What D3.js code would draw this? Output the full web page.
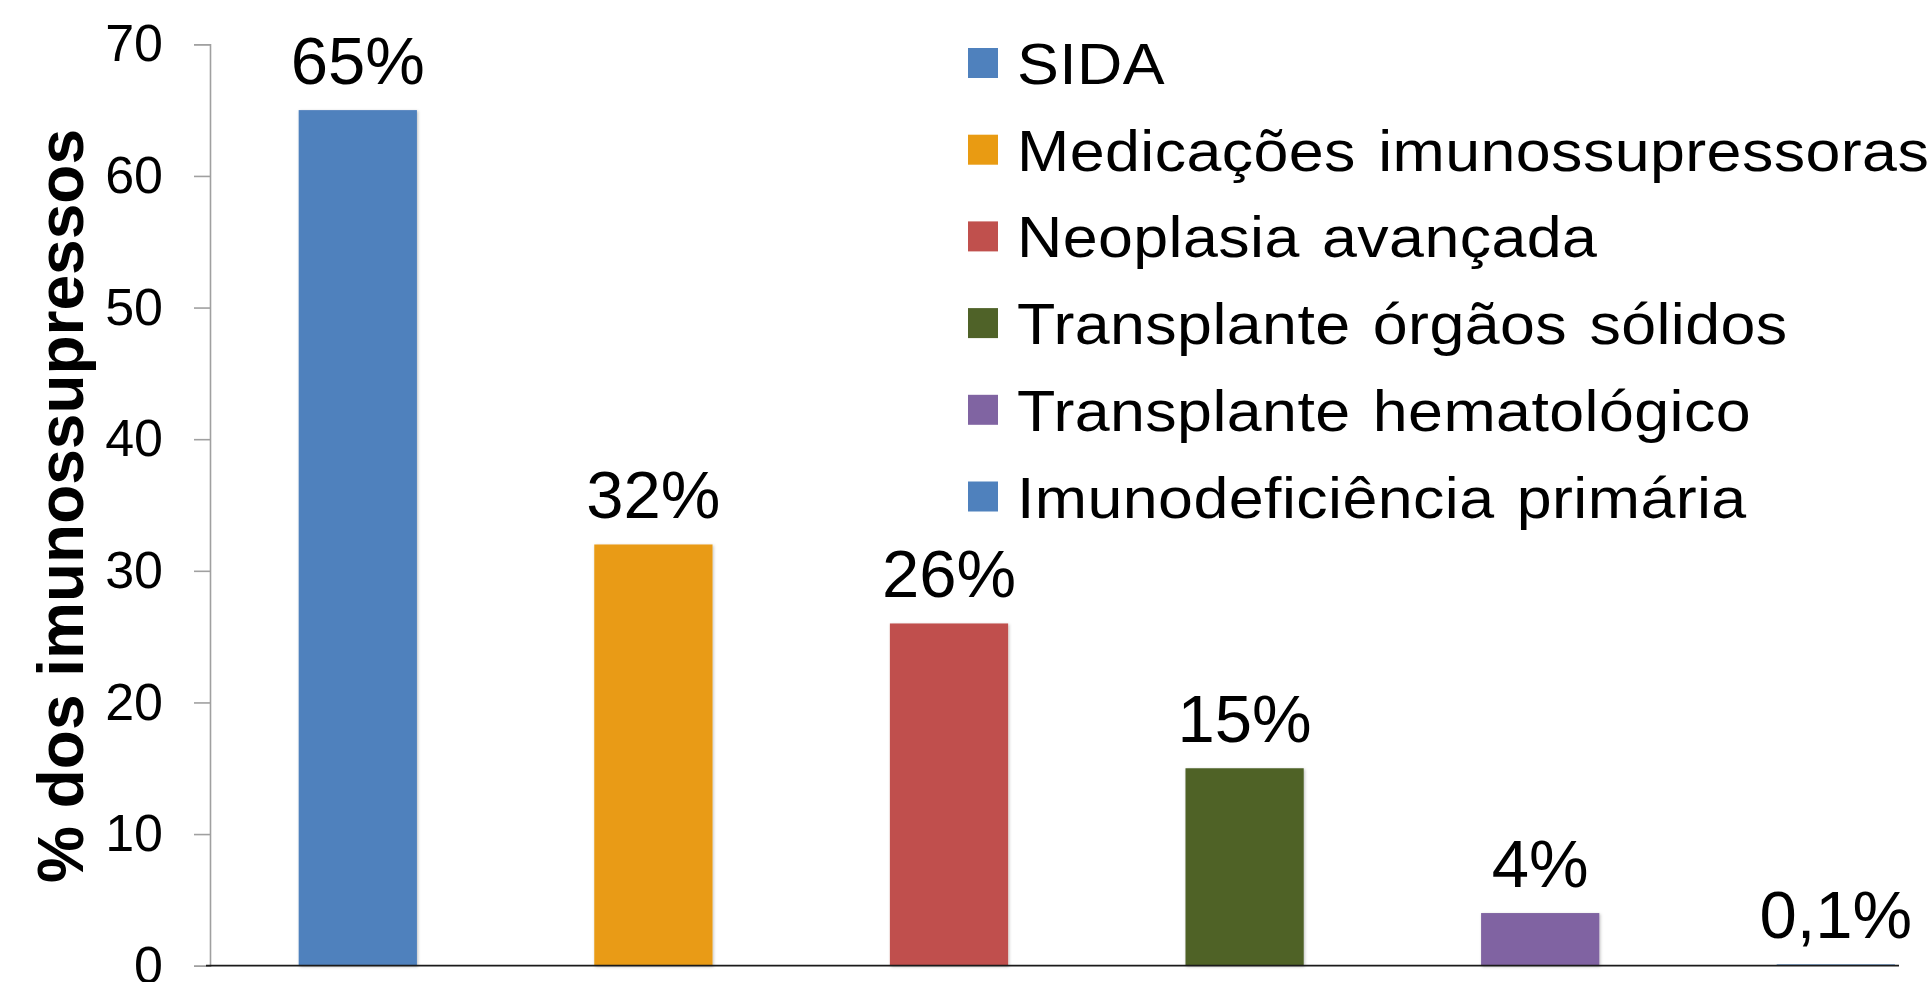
<!DOCTYPE html>
<html>
<head>
<meta charset="utf-8">
<script src="https://cdn.jsdelivr.net/npm/d3@7"></script>
<style>
  html, body { margin: 0; padding: 0; background: #fff; }
  svg { display: block; font-family: "Liberation Sans", Arial, sans-serif; }
</style>
</head>
<body>
<div id="chart-area"></div>
<script>
// data
var categories = ["SIDA", "Medicações imunossupressoras", "Neoplasia avançada",
                  "Transplante órgãos sólidos", "Transplante hematológico", "Imunodeficiência primária"];
var values = [65, 32, 26, 15, 4, 0.1];
var valueLabels = ["65%", "32%", "26%", "15%", "4%", "0,1%"];
var colors = ["#4F81BD", "#E99B12", "#C0504D", "#4F6228", "#8064A2", "#4F81BD"];
var yTicks = [0, 10, 20, 30, 40, 50, 60, 70];

var width = 1930, height = 982;

var svg = d3.select("#chart-area").append("svg")
    .attr("width", width)
    .attr("height", height);

// soft shadow round the bars
var defs = svg.append("defs");
var f = defs.append("filter").attr("id", "shadow")
    .attr("x", "-10%").attr("y", "-10%").attr("width", "120%").attr("height", "120%");
f.append("feDropShadow")
    .attr("dx", 1).attr("dy", 1)
    .attr("stdDeviation", 1.5)
    .attr("flood-color", "#000")
    .attr("flood-opacity", 0.25);

var x = d3.scaleBand()
    .domain(categories)
    .range([210, 1983.6])
    .paddingInner(0.6)
    .paddingOuter(0.3);

var y = d3.scaleLinear()
    .domain([0, 70])
    .range([965.7, 44.3]);

// y axis
var yAxis = svg.append("g")
    .attr("transform", "translate(210,0)")
    .call(d3.axisLeft(y).tickValues(yTicks).tickSize(16).tickPadding(31).tickFormat(d3.format("d")));

yAxis.select(".domain").attr("stroke", "#a0a0a0").attr("stroke-width", 1.6);
yAxis.selectAll(".tick line").attr("stroke", "#a0a0a0").attr("stroke-width", 1.6);
yAxis.selectAll(".tick text")
    .attr("fill", "#000")
    .style("font-size", "52px")
    .style("font-family", "'Liberation Sans', Arial, sans-serif");

// bars
svg.selectAll(".bar")
    .data(values)
    .enter().append("rect")
    .attr("class", "bar")
    .attr("x", function (d, i) { return x(categories[i]); })
    .attr("width", x.bandwidth())
    .attr("y", function (d) { return y(d); })
    .attr("height", function (d) { return y(0) - y(d); })
    .attr("fill", function (d, i) { return colors[i]; })
    .attr("filter", "url(#shadow)");

// baseline
svg.append("line")
    .attr("x1", 206).attr("x2", 1899)
    .attr("y1", y(0)).attr("y2", y(0))
    .attr("stroke", "#1a1a1a")
    .attr("stroke-width", 1.8);

// value labels
svg.selectAll(".val")
    .data(values)
    .enter().append("text")
    .attr("class", "val")
    .attr("x", function (d, i) { return x(categories[i]) + x.bandwidth() / 2; })
    .attr("y", function (d) { return y(d) - 26; })
    .attr("text-anchor", "middle")
    .style("font-size", "67px")
    .attr("fill", "#000")
    .text(function (d, i) { return valueLabels[i]; });

// y title
svg.append("text")
    .attr("transform", "translate(83,506) rotate(-90)")
    .attr("text-anchor", "middle")
    .style("font-size", "64px")
    .style("font-weight", "bold")
    .text("% dos imunossupressos");

// legend
var legend = svg.append("g").attr("transform", "translate(968,63)");
var rows = legend.selectAll(".leg")
    .data(categories)
    .enter().append("g")
    .attr("class", "leg")
    .attr("transform", function (d, i) { return "translate(0," + (i * 86.7) + ")"; });

rows.append("rect")
    .attr("x", 0).attr("y", -15)
    .attr("width", 30).attr("height", 30)
    .attr("fill", function (d, i) { return colors[i]; });

// legend text in the source is a little stretched sideways
rows.append("text")
    .attr("transform", "translate(49,21) scale(1.1,1)")
    .style("font-size", "57px")
    .style("letter-spacing", "0.4px")
    .style("word-spacing", "4px")
    .attr("fill", "#000")
    .text(function (d) { return d; });
</script>
</body>
</html>
